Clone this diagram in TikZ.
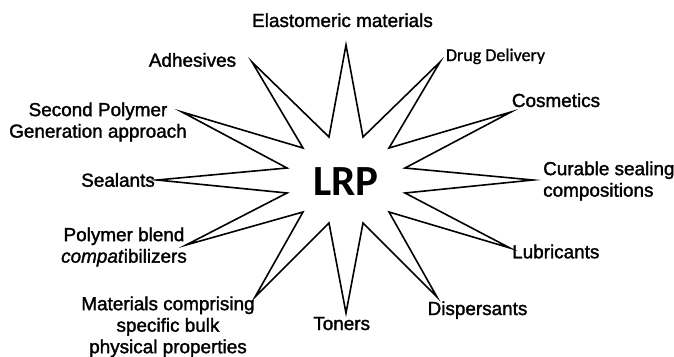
\documentclass[tikz,border=0pt]{standalone}
\usepackage{fontspec}
\setmainfont[FakeBold=1.6,ItalicFeatures={FakeBold=1.6}]{Liberation Sans}
\newfontfamily\calfont[FakeBold=1]{Carlito}
\newfontfamily\calbold{Carlito Bold}
\begin{document}
\begin{tikzpicture}[x=1pt,y=-1pt,
  lbl/.style={inner sep=0pt, font=\fontsize{18.9}{21.5}\selectfont, align=center},
  calib/.style={inner sep=0pt, font=\calfont\fontsize{18}{21.5}\selectfont},
  starline/.style={draw=black, line width=1.6pt, line join=miter, miter limit=20}]
\useasboundingbox (0,0) rectangle (674,356);
\fill[white] (0,0) rectangle (674,356);
% star
\draw[starline] (346,45) -- (363,137) -- (440,62) -- (389,148) -- (511,112) -- (405,168)
  -- (533,180) -- (405,193) -- (510,248) -- (389,212) -- (437,297) -- (363,223)
  -- (346,313) -- (329,223) -- (255,297) -- (303,212) -- (186,245) -- (287,193)
  -- (157,180) -- (287,168) -- (182,112) -- (303,148) -- (252,62) -- (329,137) -- cycle;
\node[inner sep=0pt, font=\calbold\fontsize{43}{50}\selectfont, anchor=base] (lrp) at (346,195) {LRP};
\node[lbl, anchor=base] (elast) at (342.5,27) {Elastomeric materials};
\node[calib, anchor=base] (drug) at (495.5,61) {Drug Delivery};
\node[lbl, anchor=base] (cosm) at (556,107) {Cosmetics};
\node[lbl, anchor=west, align=left] (cur) at (543,181) {Curable sealing\\compositions};
\node[lbl, anchor=base west] (lub) at (512,258.3) {Lubricants};
\node[lbl, anchor=base] (disp) at (477.5,315) {Dispersants};
\node[lbl, anchor=base] (ton) at (341.7,330) {Toners};
\node[lbl] (mat) at (168,326.8) {Materials comprising\\specific bulk\\physical properties};
\node[lbl] (pbc) at (124,247) {Polymer blend\\\textit{compat}ibilizers};
\node[lbl, anchor=base east] (seal) at (155,186.7) {Sealants};
\node[lbl] (spg) at (98,122) {Second Polymer\\Generation approach};
\node[lbl, anchor=base] (adh) at (192.5,66.7) {Adhesives};
\end{tikzpicture}
\end{document}
